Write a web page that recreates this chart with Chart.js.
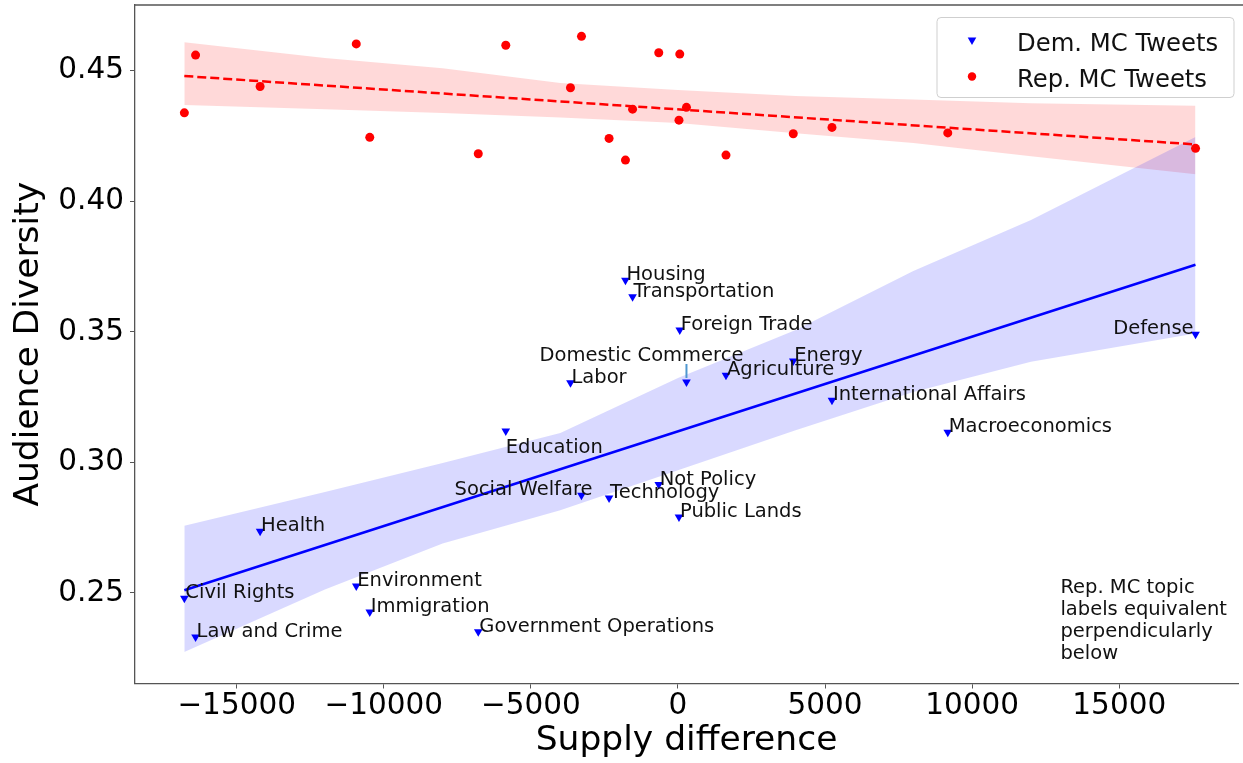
<!DOCTYPE html>
<html>
<head>
<meta charset="utf-8">
<script src="https://cdn.jsdelivr.net/npm/chart.js@4.4.1/dist/chart.umd.min.js"></script>
<style>
  html, body { margin: 0; padding: 0; background: #fff; }
  #wrap { width: 1243px; height: 763px; }
</style>
</head>
<body>
<div id="wrap"><canvas id="myChart" width="1243" height="763"></canvas></div>
<script>
// topics (same x for both parties)
const topics = ['Civil Rights', 'Law and Crime', 'Health', 'Environment', 'Immigration',
  'Government Operations', 'Education', 'Labor', 'Social Welfare', 'Technology', 'Housing',
  'Transportation', 'Not Policy', 'Public Lands', 'Foreign Trade', 'Domestic Commerce',
  'Agriculture', 'Energy', 'International Affairs', 'Macroeconomics', 'Defense']
const supplyDiff = [-16778, -16397, -14204, -10935, -10476, -6788, -5853, -3654, -3280, -2342,
  -1785, -1543, -653, 34, 61, 289, 1632, 3919, 5235, 9171, 17593]
const demDiversity = [0.2480, 0.2331, 0.2736, 0.2526, 0.2427, 0.2351, 0.3120, 0.3305, 0.2874, 0.2864,
  0.3698, 0.3634, 0.2915, 0.2791, 0.3507, 0.3308, 0.3334, 0.3388, 0.3238, 0.3115, 0.3491]
const repDiversity = [0.4339, 0.4560, 0.4440, 0.4603, 0.4245, 0.4182, 0.4598, 0.4435, 0.4632, 0.4241,
  0.4158, 0.4353, 0.4569, 0.4311, 0.4564, 0.4360, 0.4177, 0.4259, 0.4283, 0.4262, 0.4203]

// regression lines
const fitX = [-16780, 17590]
const demFit = [0.2510, 0.3757]
const repFit = [0.4480, 0.4218]

const bandX = [-16780, -12000, -8000, -4000, 0, 4000, 8000, 12000, 17590]
const demUpper = [0.2757, 0.2887, 0.2998, 0.3113, 0.3323, 0.3507, 0.3733, 0.3928, 0.4246]
const demLower = [0.2274, 0.2513, 0.2689, 0.2817, 0.2970, 0.3123, 0.3270, 0.3385, 0.3494]
const repUpper = [0.4609, 0.4549, 0.4510, 0.4453, 0.4426, 0.4403, 0.4390, 0.4376, 0.4366]
const repLower = [0.4369, 0.4353, 0.4338, 0.4321, 0.4300, 0.4261, 0.4223, 0.4173, 0.4104]

const xTicks = [-15000, -10000, -5000, 0, 5000, 10000, 15000]
const yTicks = [0.25, 0.30, 0.35, 0.40, 0.45]

const noteLines = ['Rep. MC topic', 'labels equivalent', 'perpendicularly', 'below']
const noteAt = { x: 13000, y: 0.2498 }

// label placement tweaks (pixels)
const labelTweak = {
  'Education': { dx: 0, dy: 22, align: 'left' },
  'Social Welfare': { dx: 11, dy: 0, align: 'right' },
  'Defense': { dx: -2, dy: 0, align: 'right' },
  'Domestic Commerce': { dx: -147, dy: -21, align: 'left', arrow: true }
}

const FONT = '"DejaVu Sans", sans-serif'
const pts = (xs, ys) => xs.map((x, i) => ({ x: x, y: ys[i] }))

const labelPlugin = {
  id: 'labels',
  afterDatasetsDraw(chart) {
    const ctx = chart.ctx
    const meta = chart.getDatasetMeta(0)
    ctx.save()
    ctx.font = '19.5px ' + FONT
    ctx.fillStyle = '#111'
    ctx.textBaseline = 'alphabetic'
    topics.forEach((t, i) => {
      const p = meta.data[i]
      const tw = labelTweak[t] || { dx: 1, dy: 0, align: 'left' }
      ctx.textAlign = tw.align
      ctx.fillText(t, p.x + tw.dx, p.y + tw.dy)
      if (tw.arrow) {
        ctx.strokeStyle = '#4f97d0'
        ctx.lineWidth = 2
        ctx.beginPath()
        ctx.moveTo(p.x, p.y + tw.dy + 3)
        ctx.lineTo(p.x, p.y - 4)
        ctx.stroke()
      }
    })
    // note text
    const sx = chart.scales.x, sy = chart.scales.y
    ctx.textAlign = 'left'
    const nx = sx.getPixelForValue(noteAt.x)
    const ny = sy.getPixelForValue(noteAt.y)
    noteLines.forEach((l, i) => ctx.fillText(l, nx, ny + i * 21.8))
    ctx.restore()
  },
  afterDraw(chart) {
    const ctx = chart.ctx
    const a = chart.chartArea
    ctx.save()
    // top spine
    ctx.strokeStyle = '#555'
    ctx.lineWidth = 1.3
    ctx.beginPath()
    ctx.moveTo(a.left, a.top)
    ctx.lineTo(chart.width, a.top)
    ctx.stroke()
    // legend
    const bx = a.right - 301, by = a.top + 12.5, bw = 297, bh = 80
    ctx.fillStyle = 'rgba(255,255,255,0.8)'
    ctx.strokeStyle = '#cfcfcf'
    ctx.lineWidth = 1
    ctx.beginPath()
    ctx.roundRect(bx, by, bw, bh, 4)
    ctx.fill()
    ctx.stroke()
    ctx.fillStyle = 'blue'
    ctx.beginPath()
    ctx.moveTo(bx + 30.7, by + 20)
    ctx.lineTo(bx + 39.3, by + 20)
    ctx.lineTo(bx + 35, by + 27.5)
    ctx.closePath()
    ctx.fill()
    ctx.fillStyle = 'red'
    ctx.beginPath()
    ctx.arc(bx + 35, by + 59, 4.2, 0, Math.PI * 2)
    ctx.fill()
    ctx.fillStyle = '#111'
    ctx.font = '24.3px ' + FONT
    ctx.textAlign = 'left'
    ctx.textBaseline = 'alphabetic'
    ctx.fillText('Dem. MC Tweets', bx + 80, by + 33.5)
    ctx.fillText('Rep. MC Tweets', bx + 80, by + 69.5)
    ctx.restore()
  }
}

const ctx = document.getElementById('myChart')

new Chart(ctx, {
  type: 'scatter',
  data: {
    datasets: [
      {
        label: 'Dem. MC Tweets',
        data: pts(supplyDiff, demDiversity),
        pointStyle: 'triangle',
        rotation: 180,
        pointRadius: 5,
        backgroundColor: 'blue',
        borderWidth: 0,
        order: 0
      },
      {
        label: 'Rep. MC Tweets',
        data: pts(supplyDiff, repDiversity),
        pointStyle: 'circle',
        pointRadius: 4.5,
        backgroundColor: 'red',
        borderWidth: 0,
        order: 0
      },
      {
        data: pts(fitX, demFit),
        showLine: true,
        borderColor: 'blue',
        borderWidth: 2.5,
        pointRadius: 0,
        order: 1
      },
      {
        data: pts(fitX, repFit),
        showLine: true,
        borderColor: 'red',
        borderWidth: 2.5,
        borderDash: [9, 4],
        pointRadius: 0,
        order: 1
      },
      {
        data: pts(bandX, demUpper),
        showLine: true,
        borderWidth: 0,
        pointRadius: 0,
        fill: '+1',
        backgroundColor: 'rgba(0,0,255,0.15)',
        order: 2
      },
      {
        data: pts(bandX, demLower),
        showLine: true,
        borderWidth: 0,
        pointRadius: 0,
        order: 2
      },
      {
        data: pts(bandX, repUpper),
        showLine: true,
        borderWidth: 0,
        pointRadius: 0,
        fill: '+1',
        backgroundColor: 'rgba(255,0,0,0.15)',
        order: 2
      },
      {
        data: pts(bandX, repLower),
        showLine: true,
        borderWidth: 0,
        pointRadius: 0,
        order: 2
      }
    ]
  },
  options: {
    responsive: false,
    animation: false,
    devicePixelRatio: 1,
    layout: { padding: { left: 0, right: 0, top: 4.5, bottom: 0 } },
    plugins: {
      legend: { display: false },
      tooltip: { enabled: false }
    },
    scales: {
      x: {
        type: 'linear',
        min: -18456,
        max: 19036,
        afterBuildTicks: s => { s.ticks = xTicks.map(v => ({ value: v })) },
        afterFit: s => { s.height = 79.5; s.paddingLeft = 0; s.paddingRight = 0 },
        ticks: {
          font: { family: FONT, size: 29.5 },
          color: '#000',
          padding: 0,
          maxRotation: 0,
          callback: v => (v < 0 ? '\u2212' + Math.abs(v) : String(v))
        },
        grid: { drawOnChartArea: false, drawTicks: true, tickLength: 5, tickColor: '#555' },
        border: { display: true, color: '#555', width: 1.3 },
        title: {
          display: true,
          text: 'Supply difference',
          font: { family: FONT, size: 34.5 },
          color: '#000',
          padding: { top: 0, bottom: 1.3 }
        }
      },
      y: {
        type: 'linear',
        min: 0.2153,
        max: 0.4752,
        afterBuildTicks: s => { s.ticks = yTicks.map(v => ({ value: v })) },
        afterFit: s => { s.width = 135; s.paddingTop = 0; s.paddingBottom = 0 },
        ticks: {
          font: { family: FONT, size: 29.5 },
          color: '#000',
          padding: 6,
          callback: v => v.toFixed(2)
        },
        grid: { drawOnChartArea: false, drawTicks: true, tickLength: 5, tickColor: '#555' },
        border: { display: true, color: '#555', width: 1.3 },
        title: {
          display: true,
          text: 'Audience Diversity',
          font: { family: FONT, size: 34.5 },
          color: '#000',
          padding: { top: 8.3, bottom: 0 }
        }
      }
    }
  },
  plugins: [labelPlugin]
})
</script>
</body>
</html>
